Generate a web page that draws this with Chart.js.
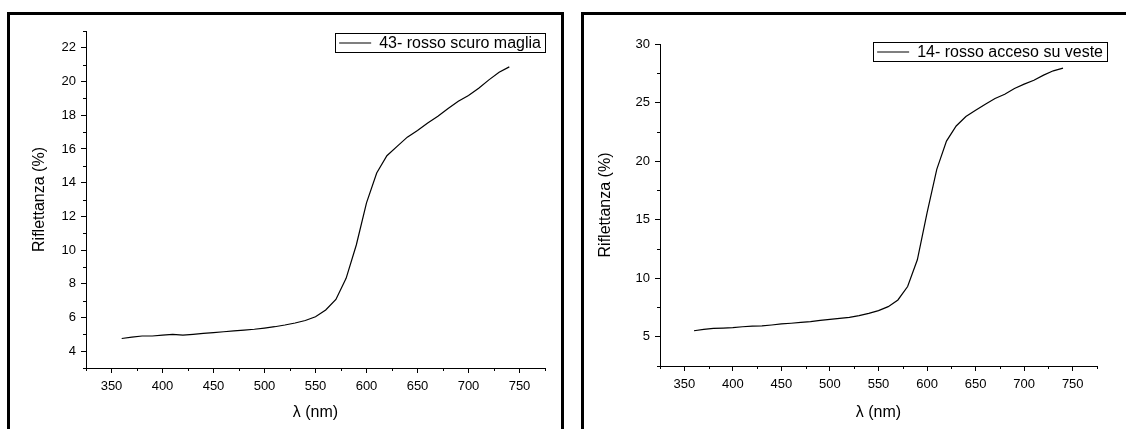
<!DOCTYPE html>
<html>
<head>
<meta charset="utf-8">
<script src="https://cdn.jsdelivr.net/npm/chart.js@4.4.1/dist/chart.umd.min.js"></script>
<style>
    html, body { margin: 0; padding: 0; background: #fff; overflow: hidden; }
    body { width: 1126px; height: 429px; position: relative; }
    .frame { position: absolute; top: 12px; border: 3px solid #000; border-bottom: none; box-sizing: border-box; height: 430px; }
    #frameLeft { left: 7px; width: 557px; }
    #frameRight { left: 581px; width: 560px; border-right: none; }
    .plot { position: absolute; top: 15px; height: 414px; }
    #plotLeft { left: 10px; width: 551px; }
    #plotRight { left: 584px; width: 542px; }
</style>
</head>
<body>
<div class="frame" id="frameLeft"></div>
<div class="frame" id="frameRight"></div>
<div class="plot" id="plotLeft"><canvas id="leftChart"></canvas></div>
<div class="plot" id="plotRight"><canvas id="rightChart"></canvas></div>
<script>
const wavelengths = [360, 370, 380, 390, 400, 410, 420, 430, 440, 450, 460, 470, 480, 490, 500,
    510, 520, 530, 540, 550, 560, 570, 580, 590, 600, 610, 620, 630, 640, 650,
    660, 670, 680, 690, 700, 710, 720, 730, 740];

const leftLabel = "43- rosso scuro maglia";
const leftValues = [4.75, 4.83, 4.9, 4.9, 4.95, 5.0, 4.95, 5.0, 5.05, 5.1, 5.15, 5.2, 5.25, 5.3, 5.37,
    5.45, 5.55, 5.67, 5.82, 6.04, 6.44, 7.07, 8.32, 10.3, 12.8, 14.57, 15.6, 16.15, 16.7, 17.1,
    17.54, 17.94, 18.4, 18.83, 19.17, 19.6, 20.1, 20.55, 20.87];

const rightLabel = "14- rosso acceso su veste";
const rightValues = [5.51, 5.62, 5.71, 5.74, 5.77, 5.85, 5.9, 5.92, 6.0, 6.09, 6.15, 6.22, 6.29, 6.39, 6.49,
    6.57, 6.66, 6.8, 7.0, 7.23, 7.57, 8.14, 9.29, 11.57, 15.57, 19.29, 21.71, 23.0, 23.8, 24.34,
    24.86, 25.34, 25.71, 26.2, 26.57, 26.91, 27.34, 27.71, 27.94];

const xTitle = "λ (nm)";
const yTitle = "Riflettanza (%)";

(function () {
    const FONT = "'Liberation Sans', Arial, sans-serif";

    // short minor ticks drawn by hand, major ones come from the grid
    const minorTicks = {
        id: "minorTicks",
        afterDraw(chart, args, opts) {
            const ctx = chart.ctx;
            ctx.save();
            ctx.strokeStyle = "#000";
            ctx.lineWidth = 1;
            for (const id of ["x", "y"]) {
                const scale = chart.scales[id];
                const isMajor = opts[id];
                scale.ticks.forEach((t) => {
                    if (isMajor(t.value)) return;
                    const p = Math.round(scale.getPixelForValue(t.value)) + 0.5;
                    ctx.beginPath();
                    if (id === "x") {
                        ctx.moveTo(p, scale.top);
                        ctx.lineTo(p, scale.top + 3);
                    } else {
                        ctx.moveTo(scale.right, p);
                        ctx.lineTo(scale.right - 3, p);
                    }
                    ctx.stroke();
                });
            }
            ctx.restore();
        },
    };

    const boxLegend = {
        id: "boxLegend",
        afterDraw(chart, args, opts) {
            const ctx = chart.ctx;
            const area = chart.chartArea;
            const label = chart.data.datasets[0].label;
            ctx.save();
            ctx.font = "16px " + FONT;
            const tw = ctx.measureText(label).width;
            const w = 4 + 32 + 8 + tw + 4;
            const h = 19;
            const x = area.right + opts.dx - w;
            const y = area.top + opts.dy;
            ctx.strokeStyle = "#000";
            ctx.lineWidth = 1;
            ctx.strokeRect(Math.round(x) + 0.5, Math.round(y) + 0.5, Math.round(w), h);
            ctx.beginPath();
            ctx.lineWidth = 1.2;
            ctx.moveTo(x + 4, y + h / 2 + 0.5);
            ctx.lineTo(x + 36, y + h / 2 + 0.5);
            ctx.stroke();
            ctx.fillStyle = "#000";
            ctx.textBaseline = "middle";
            ctx.fillText(label, x + 44, y + h / 2 + 1);
            ctx.restore();
        },
    };

    function linearAxis(min, max, step, isMajor) {
        return {
            type: "linear",
            min: min,
            max: max,
            border: { display: true, color: "#000", width: 1 },
            grid: {
                drawOnChartArea: false,
                drawTicks: true,
                tickLength: 5,
                tickColor: (c) => (c.tick && isMajor(c.tick.value) ? "#000" : "rgba(0,0,0,0)"),
            },
            ticks: {
                stepSize: step,
                autoSkip: false,
                maxRotation: 0,
                color: "#000",
                font: { family: FONT, size: 13 },
                callback: (v) => (isMajor(v) ? String(v) : ""),
            },
        };
    }

    function makeChart(nodeId, cfg) {
        const element = document.getElementById(nodeId);
        if (!element || typeof Chart === "undefined") {
            return null;
        }
        const isMajorX = (v) => Math.abs((v - 350) % 50) < 1e-6;
        const xAxis = linearAxis(325, 775, 25, isMajorX);
        xAxis.ticks.padding = 6;
        xAxis.title = { display: true, text: xTitle, color: "#000", font: { family: FONT, size: 16 }, padding: { top: 0, bottom: 7 } };
        xAxis.afterFit = (s) => { s.height = cfg.xHeight; };
        const yAxis = linearAxis(cfg.yMin, cfg.yMax, cfg.yStep, cfg.isMajorY);
        yAxis.ticks.padding = 5;
        yAxis.title = { display: true, text: yTitle, color: "#000", font: { family: FONT, size: 16 }, padding: { top: cfg.yTitlePad, bottom: 0 } };
        yAxis.afterFit = (s) => { s.width = 76; };

        return new Chart(element, {
            type: "line",
            data: {
                labels: wavelengths,
                datasets: [
                    {
                        label: cfg.label,
                        data: wavelengths.map((w, i) => ({ x: w, y: cfg.values[i] })),
                        borderColor: "#000",
                        borderWidth: 1.2,
                        pointRadius: 0,
                        tension: 0,
                        fill: false,
                    },
                ],
            },
            options: {
                responsive: true,
                maintainAspectRatio: false,
                animation: false,
                layout: { padding: { top: cfg.padTop, right: cfg.padRight, left: 0, bottom: 0 } },
                plugins: {
                    legend: { display: false },
                    tooltip: { enabled: false },
                    minorTicks: { x: isMajorX, y: cfg.isMajorY },
                    boxLegend: { dx: cfg.legendDx, dy: cfg.legendDy },
                },
                scales: { x: xAxis, y: yAxis },
            },
            plugins: [minorTicks, boxLegend],
        });
    }

    makeChart("leftChart", {
        label: leftLabel,
        values: leftValues,
        yMin: 3, yMax: 23, yStep: 1,
        isMajorY: (v) => Math.abs(v % 2) < 1e-6,
        padTop: 16, padRight: 16, xHeight: 61,
        yTitlePad: 20,
        legendDx: 0, legendDy: 2,
    });

    makeChart("rightChart", {
        label: rightLabel,
        values: rightValues,
        yMin: 2.5, yMax: 30, yStep: 2.5,
        isMajorY: (v) => Math.abs(v % 5) < 1e-6,
        padTop: 29, padRight: 29, xHeight: 63,
        yTitlePad: 12,
        legendDx: 10, legendDy: -2,
    });
})();
</script>
</body>
</html>
